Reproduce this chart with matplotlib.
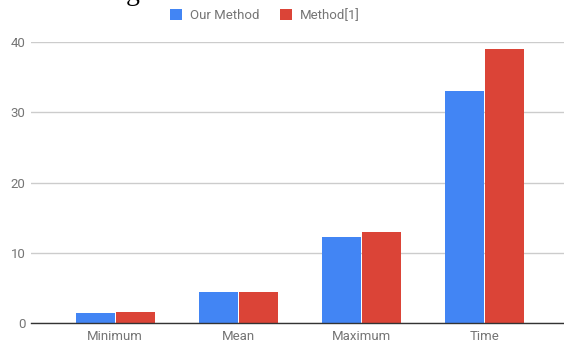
import matplotlib.pyplot as plt
from matplotlib.patches import Patch
import numpy as np

# données
categories = ["Minimum", "Mean", "Maximum", "Time"]
our_method = [1.4, 4.4, 12.3, 33.0]
method_1 = [1.5, 4.4, 13.0, 39.0]
y_ticks = [0, 10, 20, 30, 40]

BLUE = "#4285F4"
RED = "#DB4437"
TXT = "#757575"

plt.rcParams['font.family'] = ['Roboto', 'DejaVu Sans']

fig = plt.figure(figsize=(5.64, 3.43), dpi=100)
ax = fig.add_axes([31 / 564, 1 - 323 / 343, 1 - 31 / 564, (323 - 42) / 343])

x = np.arange(len(categories))
w = 0.317
ax.bar(x - w / 2 - 0.004, our_method, width=w, color=BLUE, zorder=3)
ax.bar(x + w / 2 + 0.004, method_1, width=w, color=RED, zorder=3)

ax.set_xlim(-0.683, 3.65)
ax.set_ylim(0, 40)
ax.set_yticks(y_ticks)
ax.set_xticks(x)
ax.set_xticklabels(categories)

ax.grid(axis='y', color='#cccccc', linewidth=1, zorder=0)
for s in ['top', 'right', 'left']:
    ax.spines[s].set_visible(False)
ax.spines['bottom'].set_color('#333333')
ax.spines['bottom'].set_linewidth(1)
ax.spines['bottom'].set_zorder(4)
ax.tick_params(axis='both', length=0, labelsize=9.5, labelcolor=TXT)
ax.tick_params(axis='y', pad=4)
ax.tick_params(axis='x', pad=5)

# légende en haut
handles = [Patch(facecolor=BLUE, label="Our Method"),
           Patch(facecolor=RED, label="Method[1]")]
fig.legend(handles=handles, loc='center', bbox_to_anchor=(0.47, 0.956), ncol=2,
           frameon=False, handlelength=0.9, handleheight=0.9, handletextpad=0.6,
           columnspacing=1.6, fontsize=9.5, labelcolor=TXT)

# reste du titre coupé en haut de l'image
fig.text(126 / 564, 1.0, "g", family=['Liberation Serif'], fontsize=20,
         color='black', va='baseline', ha='left')

fig.savefig("out.png", dpi=100)
